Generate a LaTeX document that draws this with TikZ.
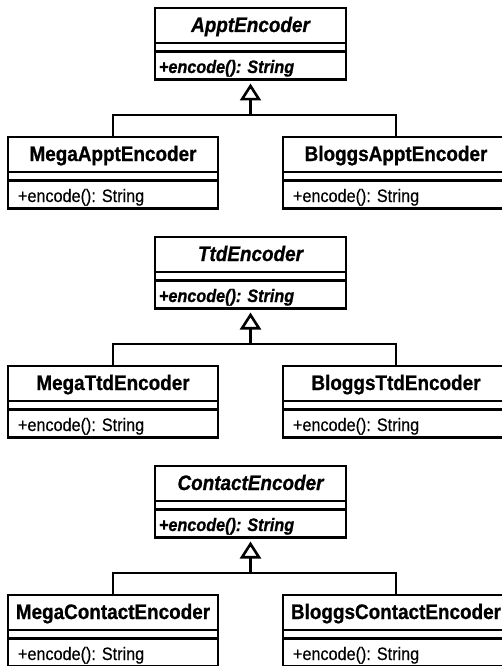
\documentclass[tikz,border=0pt]{standalone}
\usepackage{fontspec}
\setmainfont{Liberation Sans}[FakeStretch=0.9,UprightFeatures={FakeBold=0.4},BoldFeatures={FakeBold=0.8},BoldItalicFeatures={FakeBold=0.8}]
\usetikzlibrary{arrows.meta}

% class body: width, title, indent, operation
\newcommand{\classbody}[4]{\vbox{\offinterlineskip
    \hbox{\rule[-11pt]{0pt}{35pt}\makebox[#1]{\fontsize{21}{24}\selectfont\bfseries#2}}%
    \hbox{\rule{0pt}{8.5pt}}%
    \hbox{\rule[-6.5pt]{0pt}{28pt}\makebox[#1][l]{\hspace{#3}\fontsize{18}{20}\selectfont#4}}}}

\tikzset{
    umlclass/.style={draw,line width=2.6pt,inner sep=0pt,outer sep=0pt,anchor=north west,
        path picture={
            \draw[line width=2.6pt] ([yshift=-35pt]path picture bounding box.north west) -- ([yshift=-35pt]path picture bounding box.north east);
            \draw[line width=2.6pt] ([yshift=-43.5pt]path picture bounding box.north west) -- ([yshift=-43.5pt]path picture bounding box.north east);
        }},
    branch/.style={line width=2.6pt},
    inherit/.style={line width=2.6pt,-{Triangle[open,length=17pt,width=21pt]},shorten >=4pt}
}

\begin{document}
\begin{tikzpicture}[x=1pt,y=-1pt]
    \useasboundingbox (0,0) rectangle (501,666);

    % appointments
    \node[umlclass] (appt) at (155,8) {\classbody{191pt}{\itshape ApptEncoder}{4pt}{\bfseries\itshape +encode(): String}};
    \node[umlclass] (megaappt) at (8,137) {\classbody{210pt}{MegaApptEncoder}{10pt}{+encode(): String}};
    \node[umlclass] (bloggsappt) at (283,137) {\classbody{226pt}{BloggsApptEncoder}{10pt}{+encode(): String}};
    \coordinate (apptj) at (250.5,115);
    \draw[branch] (megaappt.north) |- (apptj) -| (bloggsappt.north);
    \draw[inherit] (apptj) -- (appt.south);

    % things to do
    \node[umlclass] (ttd) at (155,237) {\classbody{191pt}{\itshape TtdEncoder}{4pt}{\bfseries\itshape +encode(): String}};
    \node[umlclass] (megattd) at (8,366) {\classbody{210pt}{MegaTtdEncoder}{10pt}{+encode(): String}};
    \node[umlclass] (bloggsttd) at (283,366) {\classbody{226pt}{BloggsTtdEncoder}{10pt}{+encode(): String}};
    \coordinate (ttdj) at (250.5,344);
    \draw[branch] (megattd.north) |- (ttdj) -| (bloggsttd.north);
    \draw[inherit] (ttdj) -- (ttd.south);

    % contacts
    \node[umlclass] (contact) at (155,466) {\classbody{191pt}{\itshape ContactEncoder}{4pt}{\bfseries\itshape +encode(): String}};
    \node[umlclass] (megacontact) at (8,595) {\classbody{210pt}{MegaContactEncoder}{10pt}{+encode(): String}};
    \node[umlclass] (bloggscontact) at (283,595) {\classbody{226pt}{BloggsContactEncoder}{10pt}{+encode(): String}};
    \coordinate (contactj) at (250.5,573);
    \draw[branch] (megacontact.north) |- (contactj) -| (bloggscontact.north);
    \draw[inherit] (contactj) -- (contact.south);
\end{tikzpicture}
\end{document}
